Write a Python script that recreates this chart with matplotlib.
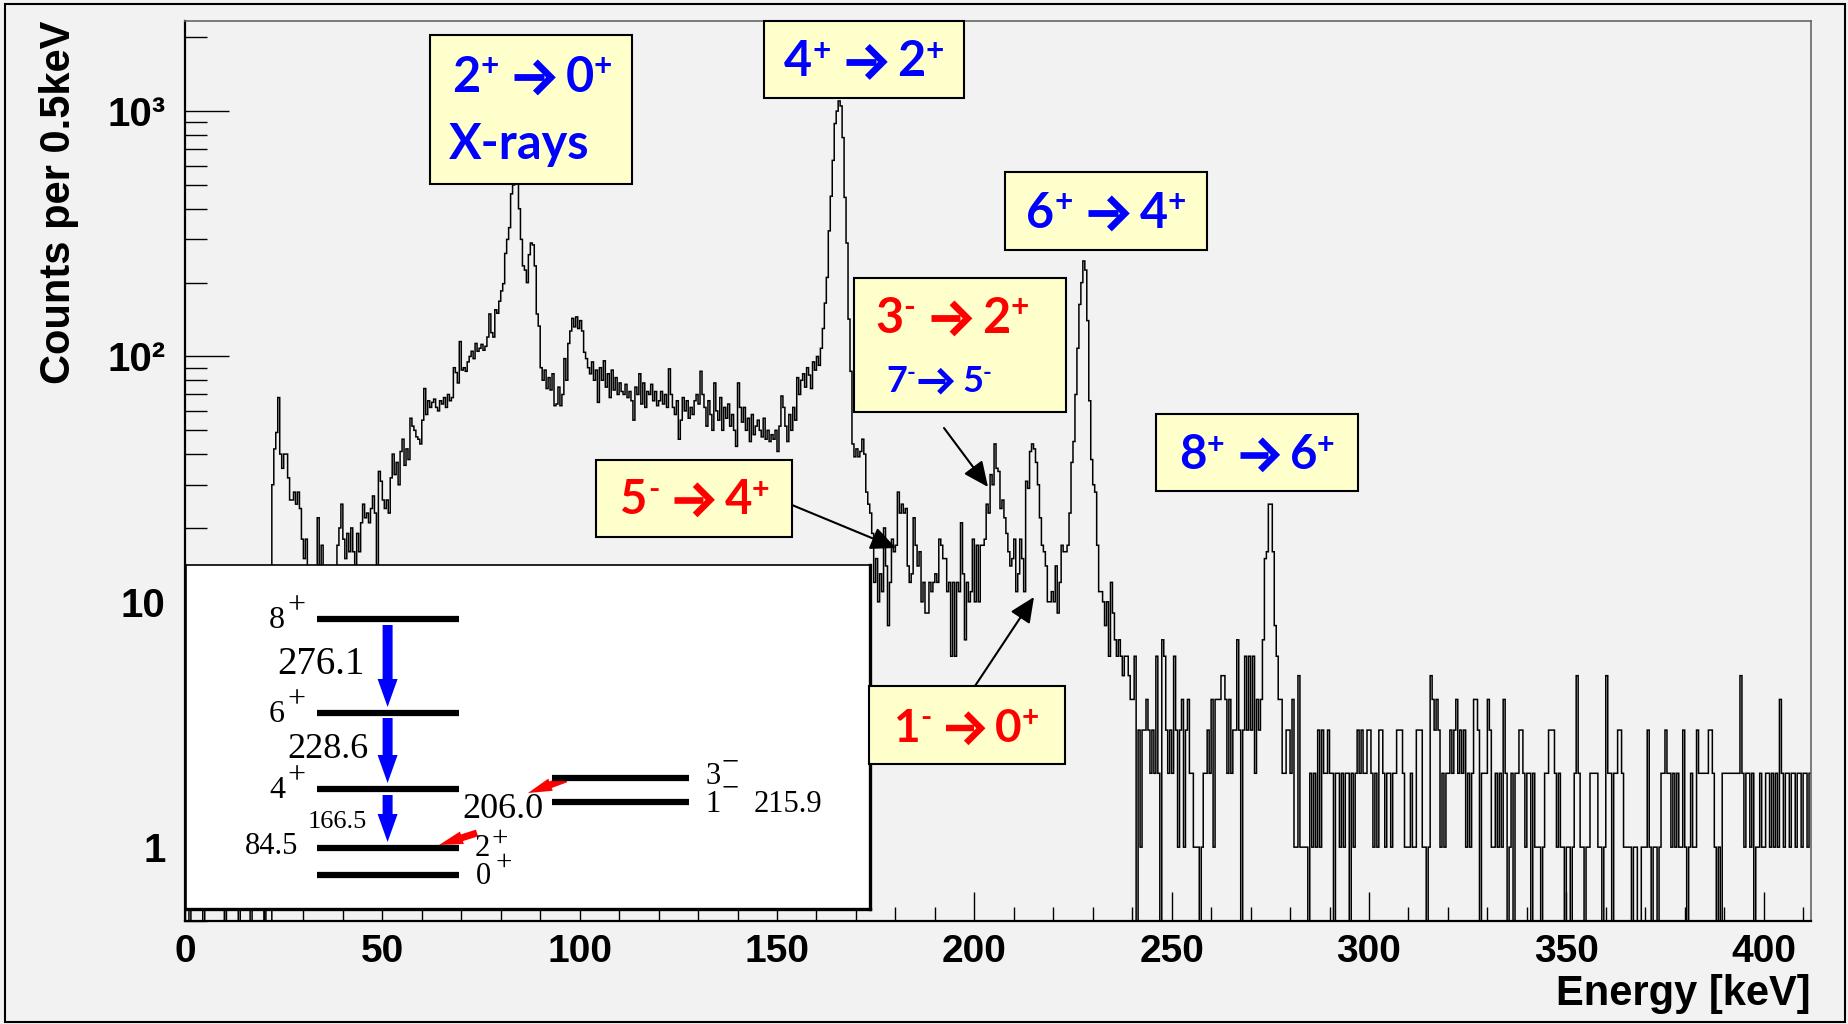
import numpy as np
import matplotlib
matplotlib.use("Agg")
import matplotlib.pyplot as plt
from matplotlib.patches import Rectangle, FancyArrow
from matplotlib.ticker import FixedLocator, LogLocator, MultipleLocator, NullFormatter

W, H, DPI = 1848, 1024, 100
BG = "#f2f2f2"
BOX_FONT = ["Lato", "DejaVu Sans"]
BLUE, RED = "#0000ff", "#ff0000"

# --- spectrum: counts per 0.5 keV bin, 0 - 412 keV ---
bin_width = 0.5
e_max = 412.0

counts_0_60 = [
    0, 0, 1, 0, 0, 0, 0, 0, 0, 1,
    0, 0, 0, 0, 0, 0, 0, 0, 0, 0,
    1, 0, 0, 0, 0, 0, 0, 1, 0, 0,
    0, 0, 0, 1, 0, 0, 0, 0, 0, 0,
    1, 0, 0, 0, 30, 42, 49, 68, 40, 35,
    40, 40, 32, 26, 26, 28, 25, 28, 24, 18,
    15, 18, 14, 8, 6, 9, 4, 22, 12, 17,
    9, 7, 12, 8, 10, 6, 11, 17, 20, 25,
    18, 15, 19, 16, 20, 16, 14, 19, 16, 21,
    25, 22, 23, 21, 24, 27, 23, 11, 34, 31,
    26, 24, 26, 23, 32, 40, 33, 37, 30, 41,
    46, 36, 42, 38, 56, 52, 50, 47, 46, 44,
]
counts_60_120 = [
    55, 74, 58, 66, 62, 65, 67, 62, 60, 66,
    64, 68, 62, 70, 66, 68, 90, 86, 78, 115,
    88, 90, 87, 95, 100, 105, 98, 113, 105, 108,
    112, 106, 110, 120, 149, 125, 120, 155, 150, 168,
    185, 198, 263, 300, 335, 460, 500, 520, 510, 400,
    300, 234, 225, 200, 260, 290, 285, 234, 149, 133,
    90, 80, 88, 74, 82, 73, 85, 63, 64, 75,
    63, 70, 98, 80, 113, 127, 143, 132, 145, 130,
    140, 127, 104, 98, 90, 85, 95, 80, 88, 65,
    90, 80, 96, 75, 85, 68, 88, 73, 82, 70,
    78, 72, 70, 77, 68, 72, 66, 55, 75, 70,
    85, 64, 78, 62, 72, 70, 77, 66, 72, 63,
]
counts_120_180 = [
    66, 72, 64, 70, 62, 89, 70, 62, 58, 66,
    46, 55, 68, 60, 66, 56, 62, 58, 66, 70,
    64, 87, 70, 62, 52, 66, 58, 50, 78, 60,
    55, 68, 50, 62, 56, 64, 52, 58, 50, 43,
    78, 62, 54, 62, 50, 56, 45, 58, 48, 52,
    55, 50, 47, 56, 46, 50, 45, 48, 46, 50,
    41, 52, 69, 62, 52, 45, 58, 50, 62, 55,
    82, 70, 80, 85, 75, 90, 84, 74, 95, 88,
    100, 92, 108, 130, 165, 210, 325, 450, 630, 890,
    1000, 1100, 1050, 780, 445, 290, 142, 87, 44, 39,
    42, 39, 41, 46, 40, 28, 25, 23, 19, 12,
    15, 10, 13, 11, 20, 14, 8, 12, 18, 16,
]
counts_180_240 = [
    17, 28, 23, 25, 23, 24, 14, 12, 13, 22,
    17, 14, 16, 10, 12, 9, 9, 12, 11, 12,
    13, 12, 18, 17, 15, 15, 11, 12, 6, 12,
    6, 12, 11, 21, 13, 7, 12, 10, 11, 18,
    10, 17, 10, 17, 17, 18, 25, 23, 33, 30,
    44, 35, 34, 24, 26, 22, 19, 16, 14, 15,
    18, 11, 13, 18, 15, 11, 31, 29, 41, 44,
    42, 37, 30, 22, 17, 16, 14, 10, 10, 11,
    10, 14, 9, 12, 17, 16, 16, 17, 23, 37,
    45, 70, 108, 163, 200, 245, 225, 140, 66, 38,
    30, 28, 17, 11, 11, 10, 8, 10, 6, 12,
    9, 7, 6, 7, 6, 5, 6, 6, 5, 4,
]
counts_240_330 = [
    4, 6, 0, 3, 1, 3, 3, 4, 3, 2,
    3, 2, 6, 2, 0, 7, 6, 3, 2, 3,
    2, 6, 3, 1, 3, 4, 1, 3, 4, 2,
    2, 1, 1, 1, 0, 1, 2, 2, 3, 2,
    4, 1, 4, 4, 4, 5, 5, 4, 2, 4,
    2, 3, 3, 7, 3, 0, 3, 6, 3, 6,
    3, 6, 2, 4, 3, 4, 7, 15, 16, 25,
    25, 16, 8, 6, 4, 4, 2, 2, 3, 3,
    2, 4, 1, 1, 5, 1, 1, 1, 1, 0,
    2, 1, 2, 1, 3, 1, 3, 2, 2, 3,
    2, 2, 0, 2, 2, 1, 2, 1, 2, 2,
    0, 2, 1, 2, 3, 2, 3, 2, 2, 3,
    3, 2, 1, 2, 1, 3, 3, 2, 1, 2,
    2, 1, 2, 2, 3, 3, 3, 2, 1, 1,
    1, 2, 1, 1, 3, 3, 3, 1, 1, 0,
    1, 5, 4, 3, 4, 3, 1, 2, 1, 2,
    2, 3, 2, 3, 4, 2, 3, 2, 3, 1,
    2, 1, 2, 4, 4, 3, 0, 2, 2, 2,
]
counts_330_412 = [
    4, 3, 1, 1, 2, 1, 2, 1, 4, 2,
    0, 1, 2, 0, 2, 2, 3, 3, 2, 1,
    2, 2, 0, 2, 1, 1, 1, 0, 1, 2,
    2, 3, 3, 3, 2, 1, 2, 1, 1, 0,
    1, 1, 0, 1, 2, 5, 2, 1, 1, 0,
    1, 1, 2, 2, 2, 2, 1, 1, 0, 1,
    5, 2, 2, 0, 2, 2, 3, 3, 2, 1,
    1, 1, 1, 0, 1, 1, 0, 0, 1, 1,
    1, 3, 1, 0, 1, 1, 0, 1, 2, 2,
    3, 2, 2, 1, 2, 1, 2, 1, 1, 3,
    1, 0, 1, 2, 1, 1, 3, 2, 2, 2,
    2, 2, 3, 3, 2, 1, 0, 1, 0, 2,
    2, 2, 2, 2, 2, 2, 2, 2, 5, 2,
    1, 2, 2, 1, 2, 0, 1, 1, 2, 1,
    1, 2, 2, 1, 2, 1, 2, 1, 4, 2,
    1, 2, 2, 1, 2, 2, 1, 2, 2, 1,
    2, 2, 1, 2,
]

x_ticks = [0, 50, 100, 150, 200, 250, 300, 350, 400]
y_ticks = [1, 10, 100, 1000]
y_tick_labels = ["1", "10", "10\u00b2", "10\u00b3"]

# level scheme shown in the inset
gsb_spins = ["8", "6", "4", "2", "0"]
neg_spins = ["3", "1"]
gamma_blue = ["276.1", "228.6", "166.5"]
gamma_red = ["206.0"]
e_2plus = "84.5"
e_1minus = "215.9"

plt.rcParams["font.family"] = ["Liberation Sans", "DejaVu Sans"]

fig = plt.figure(figsize=(W / DPI, H / DPI), dpi=DPI, facecolor=BG)

# main spectrum axes
ax = fig.add_axes([185 / W, 1 - 921 / H, 1626 / W, 900 / H], facecolor=BG)
edges = np.arange(0, e_max + bin_width / 2, bin_width)
counts = np.array(counts_0_60 + counts_60_120 + counts_120_180 + counts_180_240
                  + counts_240_330 + counts_330_412, dtype=float)
shown = np.where(counts > 0, counts, 0.05)
ax.stairs(shown, edges, baseline=None, color="black", lw=1.1)
ax.set_yscale("log")
ax.set_xlim(0, e_max)
ax.set_ylim(0.5, 2330)

ax.xaxis.set_major_locator(FixedLocator(x_ticks))
ax.xaxis.set_minor_locator(MultipleLocator(10))
ax.yaxis.set_major_locator(FixedLocator(y_ticks))
ax.set_yticklabels(y_tick_labels)
ax.yaxis.set_minor_locator(LogLocator(base=10, subs=np.arange(2, 10)))
ax.yaxis.set_minor_formatter(NullFormatter())
ax.tick_params(axis="x", which="major", direction="in", length=21, width=1, pad=9, labelsize=28)
ax.tick_params(axis="x", which="minor", direction="in", length=10, width=1)
ax.tick_params(axis="y", which="major", direction="in", length=32, width=1, pad=14, labelsize=29)
ax.tick_params(axis="y", which="minor", direction="in", length=16, width=1)
for lab in ax.get_xticklabels() + ax.get_yticklabels():
    lab.set_fontweight("bold")
for side in ["left", "bottom"]:
    ax.spines[side].set_linewidth(1.6)
    ax.spines[side].set_color("black")
for side in ["top", "right"]:
    ax.spines[side].set_linewidth(1.2)
    ax.spines[side].set_color("#666666")

fig.text(59 / W, 1 - 202 / H, "Counts per 0.5keV", rotation=90, ha="center", va="center",
         fontsize=30, fontweight="bold")
fig.text(1811 / W, 1 - 994 / H, "Energy [keV]", ha="right", va="center",
         fontsize=30, fontweight="bold")

# inset with the level scheme, drawn in pixel units
ins = fig.add_axes([186 / W, 1 - 909 / H, 684 / W, 344.5 / H], facecolor="white")
ins.set_zorder(5)
ins.set_xlim(186, 870)
ins.set_ylim(909, 564.5)
ins.set_xticks([])
ins.set_yticks([])
ins.spines["top"].set_linewidth(1.2)
ins.spines["left"].set_linewidth(1.2)
ins.spines["bottom"].set_linewidth(2.4)
ins.spines["right"].set_linewidth(2.4)

gsb_y = [619, 713, 789, 848, 875]
for y in gsb_y:
    ins.plot([317, 459], [y, y], color="black", lw=4.5, solid_capstyle="butt")
neg_y = [777.5, 802]
for y in neg_y:
    ins.plot([552, 689], [y, y], color="black", lw=4.5, solid_capstyle="butt")

serif = dict(family="Liberation Serif", color="black", ha="center", va="center")
for spin, y in zip(gsb_spins[:3], gsb_y[:3]):
    ins.text(277, y + 1, spin, fontsize=23, **serif)
    ins.text(296, y - 13, "+", fontsize=23, **serif)
ins.text(272, 847, e_2plus, fontsize=22, **serif)
ins.text(482, 849, gsb_spins[3], fontsize=22, **serif)
ins.text(500, 839, "+", fontsize=21, **serif)
ins.text(483, 876, gsb_spins[4], fontsize=22, **serif)
ins.text(504, 863, "+", fontsize=21, **serif)
ins.text(713, 777, neg_spins[0], fontsize=22, **serif)
ins.text(730, 763, "\u2212", fontsize=22, **serif)
ins.text(713, 804, neg_spins[1], fontsize=22, **serif)
ins.text(730, 789, "\u2212", fontsize=22, **serif)
ins.text(788, 805, e_1minus, fontsize=22, **serif)
ins.text(321, 664, gamma_blue[0], fontsize=28, **serif)
ins.text(328, 749, gamma_blue[1], fontsize=26, **serif)
ins.text(337, 822, gamma_blue[2], fontsize=19, **serif)
ins.text(503, 810, gamma_red[0], fontsize=26, **serif)

for y0, y1 in [(625, 707), (718, 783), (795, 842)]:
    ins.add_patch(FancyArrow(387.6, y0, 0, y1 - y0, width=10, head_width=20, head_length=28,
                             length_includes_head=True, color=BLUE, lw=0))
for (x0, y0), (x1, y1) in [((566, 779), (528, 793)), ((477, 833), (439, 845))]:
    ins.add_patch(FancyArrow(x0, y0, x1 - x0, y1 - y0, width=7, head_width=13, head_length=24,
                             length_includes_head=True, color=RED, lw=0))

# overlay for the transition labels, in pixel units
ov = fig.add_axes([0, 0, 1, 1])
ov.set_zorder(10)
ov.set_xlim(0, W)
ov.set_ylim(H, 0)
ov.axis("off")
ov.add_patch(Rectangle((5, 4), 1840, 1018, fill=False, lw=1.5, ec="black"))

renderer = fig.canvas.get_renderer()


def label_box(x0, y0, x1, y1):
    ov.add_patch(Rectangle((x0, y0), x1 - x0, y1 - y0, fc="#ffffcc", ec="black", lw=1.5, zorder=11))


def transition(xc, yb, parts, size, color):
    em = size * DPI / 72
    placed = []
    pos = 0.0
    for kind, val in parts:
        if kind == "gap":
            pos += val * em
        elif kind == "arrow":
            placed.append(("arrow", pos, val * em))
            pos += val * em
        else:
            sup = kind == "sup"
            t = ov.text(pos, yb - (0.32 * em if sup else 0), val,
                        fontsize=size * (0.65 if sup else 1), color=color, fontweight="bold",
                        family=BOX_FONT, ha="left", va="baseline", zorder=12)
            placed.append(("text", t, pos))
            pos += t.get_window_extent(renderer).width
    shift = xc - pos / 2
    for kind, a, b in placed:
        if kind == "text":
            a.set_x(b + shift)
        else:
            xa = a + shift
            xb = xa + b
            yc = yb - 0.3 * em
            h = 0.32 * em
            lw = 0.14 * size
            ov.plot([xa, xb - 0.15 * em], [yc, yc], color=color, lw=lw,
                    solid_capstyle="butt", zorder=12)
            ov.plot([xb - h, xb, xb - h], [yc - h, yc, yc + h], color=color, lw=lw,
                    solid_joinstyle="miter", solid_capstyle="butt", zorder=12)


def plain(a, b, c, d):
    return [("n", a), ("sup", b), ("gap", 0.32), ("arrow", 0.76), ("gap", 0.3),
            ("n", c), ("sup", d)]


label_box(430, 35, 632, 184)
transition(532, 92, plain("2", "+", "0", "+"), 35, BLUE)
ov.text(449, 159, "X-rays", fontsize=35, color=BLUE, fontweight="bold", family=BOX_FONT,
        ha="left", va="baseline", zorder=12)

label_box(764, 21, 964, 98)
transition(864, 76.5, plain("4", "+", "2", "+"), 35, BLUE)

label_box(1005, 172, 1207, 250)
transition(1106, 228, plain("6", "+", "4", "+"), 35, BLUE)

label_box(853.6, 278, 1065.6, 412)
transition(952, 333, plain("3", "-", "2", "+"), 35, RED)
transition(939, 392, [("n", "7"), ("sup", "-"), ("gap", 0.06), ("arrow", 0.9), ("gap", 0.32),
                      ("n", "5"), ("sup", "-")], 26, BLUE)

label_box(1156, 414, 1358, 491)
transition(1257, 469, plain("8", "+", "6", "+"), 34, BLUE)

label_box(596, 460, 792, 537)
transition(695, 514, plain("5", "-", "4", "+"), 34, RED)

label_box(869, 686, 1064.5, 764)
transition(966, 742, plain("1", "-", "0", "+"), 33, RED)

arrow_kw = dict(arrowstyle="-|>,head_length=0.55,head_width=0.25", color="black", lw=1.5,
                mutation_scale=28, shrinkA=0, shrinkB=0)
for start, tip in [((792, 505), (896, 548)), ((944, 428), (988, 487)), ((975, 686), (1034, 597))]:
    ov.annotate("", xy=tip, xytext=start, arrowprops=arrow_kw, zorder=12)

fig.savefig("out.png", dpi=DPI, facecolor=BG)
